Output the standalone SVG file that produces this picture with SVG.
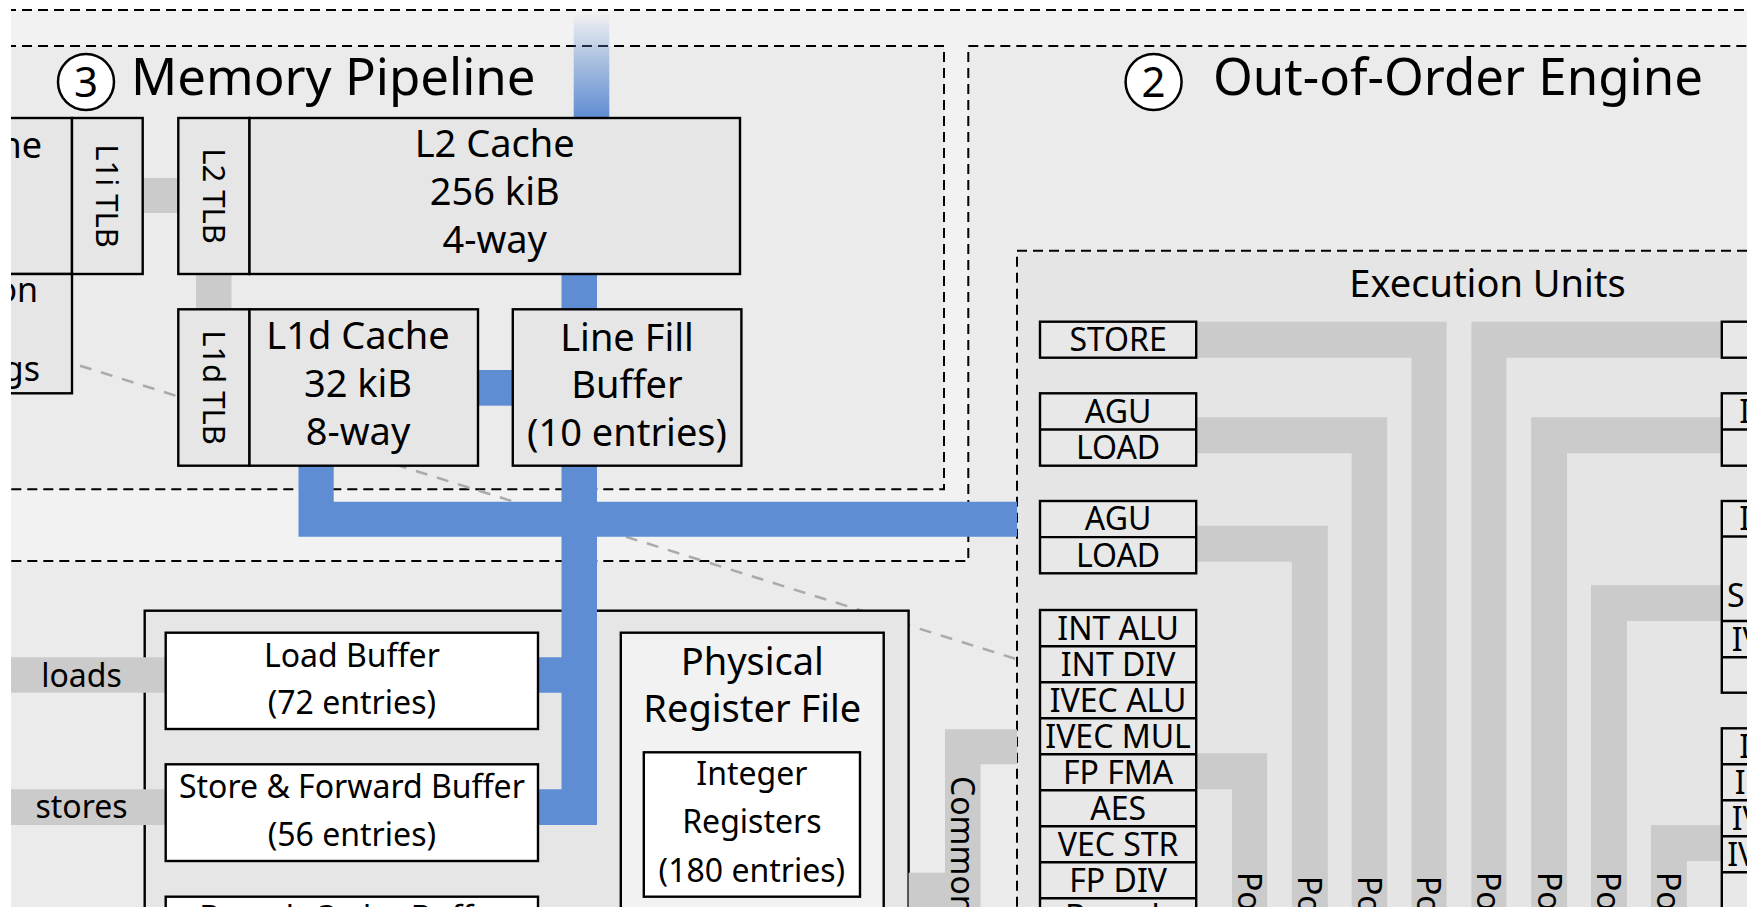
<svg xmlns="http://www.w3.org/2000/svg" width="1747" height="907" viewBox="0 0 1747 907">
<style>
text{font-family:"Noto Sans","Open Sans","DejaVu Sans",sans-serif;fill:#000}
.dash{stroke:#000;stroke-width:2;stroke-dasharray:10,6}
.box{fill:#e6e6e6;stroke:#000;stroke-width:2.4}
.wbox{fill:#fff;stroke:#000;stroke-width:2.4}
.ebox{fill:#e8e8e8;stroke:#000;stroke-width:2.4}
.ln{stroke:#000;stroke-width:2.4}
.gray{fill:#cbcbcb}
.blue{fill:#5f8dd3}
.t50{font-size:51px}
.t38{font-size:38px;text-anchor:middle}
.t32{font-size:32px;text-anchor:middle}
.t31{font-size:31px;text-anchor:middle}
.port{font-size:32px}
</style>
<defs>
<linearGradient id="fade" x1="0" y1="0" x2="0" y2="1">
<stop offset="0" stop-color="#5f8dd3" stop-opacity="0"/>
<stop offset="1" stop-color="#5f8dd3" stop-opacity="1"/>
</linearGradient>
</defs>
<rect x="0" y="0" width="1747" height="907" fill="#fff"/>
<g id="regions">
<rect id="core" x="-10" y="10" width="1780" height="920" fill="#f2f2f2" class="dash"/>
<rect id="memory-pipeline" x="-10" y="46" width="954" height="443.3" fill="#ebebeb" class="dash"/>
<polygon id="ooo-engine" points="968.3,46 1770,46 1770,930 -10,930 -10,561 968.3,561" fill="#ebebeb" class="dash"/>
<rect id="execution-units" x="1017" y="250.7" width="760" height="680" fill="#e5e5e5" class="dash"/>
</g>
<g id="titles">
<circle cx="86" cy="82" r="28" fill="#fff" stroke="#000" stroke-width="2.5"/>
<text x="86" y="97" font-size="42" text-anchor="middle">3</text>
<text x="131" y="95" class="t50">Memory Pipeline</text>
<circle cx="1153.6" cy="82" r="28" fill="#fff" stroke="#000" stroke-width="2.5"/>
<text x="1153.6" y="97" font-size="42" text-anchor="middle">2</text>
<text x="1213" y="95" class="t50">Out-of-Order Engine</text>
<text x="1487.5" y="297" class="t38">Execution Units</text>
</g>
<line x1="80" y1="365.7" x2="1017" y2="659.3" stroke="#aaa" stroke-width="2.5" stroke-dasharray="12,10"/>
<g id="load-store-unit">
<rect x="144.7" y="610.7" width="763.9" height="320" class="box"/>
</g>
<g id="connectors">
<rect class="gray" x="142.7" y="178" width="35.6" height="35"/>
<rect class="gray" x="196" y="274" width="35.5" height="35.3"/>
<rect class="gray" x="-5" y="657.3" width="170.7" height="35.4"/>
<rect class="gray" x="-5" y="789.3" width="170.7" height="35.7"/>
<path class="gray" d="M945,729.3H1017V764.3H980.5V930H945Z"/>
<rect class="gray" x="908.6" y="872.7" width="36.4" height="40"/>
<path class="gray" d="M1196,753.3H1267.1V930H1232V789.3H1196Z"/>
<path class="gray" d="M1196,525.7H1327.8V930H1291.9V561.7H1196Z"/>
<path class="gray" d="M1196,417.3H1387.2V930H1351.7V453.3H1196Z"/>
<path class="gray" d="M1196,321.7H1446.6V930H1411.5V357.7H1196Z"/>
<path class="gray" d="M1721.8,321.7H1471.4V930H1506.4V357.7H1721.8Z"/>
<path class="gray" d="M1721.8,417.3H1531.2V930H1567.1V453.3H1721.8Z"/>
<path class="gray" d="M1721.8,585H1591V930H1627V621H1721.8Z"/>
<path class="gray" d="M1721.8,825H1650.9V930H1686.8V861H1721.8Z"/>
<rect x="573.7" y="12" width="35.6" height="105.7" fill="url(#fade)"/>
<rect class="blue" x="561.5" y="274" width="35.5" height="35.3"/>
<rect class="blue" x="478" y="370" width="34.8" height="35.7"/>
<path class="blue" d="M298.5,465.7H333.7V501.7H561.5V465.7H597V501.7H1017V536.7H597V825H538V789.3H561.5V692.7H538V657.3H561.5V536.7H333.7H298.5Z"/>
</g>
<g id="front-end-left">
<rect x="-20" y="118" width="92" height="156" class="box"/>
<text x="42" y="158.3" font-size="36" text-anchor="end">L1i Cache</text>
<rect x="-20" y="274" width="92" height="119.3" class="box"/>
<text x="38" y="301.7" font-size="34" text-anchor="end">Prediction</text>
<text x="40" y="381" font-size="34" text-anchor="end">Settings</text>
</g>
<g id="l1i-tlb">
<rect x="72" y="118" width="70.7" height="156" class="box"/>
<text class="t31" transform="translate(107.3,196) rotate(90)" dy="0.36em">L1i TLB</text>
</g>
<g id="l2-tlb">
<rect x="178.3" y="118" width="71.2" height="156" class="box"/>
<text class="t31" transform="translate(213.9,196) rotate(90)" dy="0.36em">L2 TLB</text>
</g>
<g id="l2-cache">
<rect x="249.5" y="118" width="490.5" height="156" class="box"/>
<text class="t38" x="494.7" y="156.7">L2 Cache</text>
<text class="t38" x="494.7" y="205">256 kiB</text>
<text class="t38" x="494.7" y="253">4-way</text>
</g>
<g id="l1d-tlb">
<rect x="178.3" y="309.3" width="71.2" height="156.4" class="box"/>
<text class="t31" transform="translate(213.9,387.5) rotate(90)" dy="0.36em">L1d TLB</text>
</g>
<g id="l1d-cache">
<rect x="249.5" y="309.3" width="228.5" height="156.4" class="box"/>
<text class="t38" x="358" y="349.3">L1d Cache</text>
<text class="t38" x="358" y="397.3">32 kiB</text>
<text class="t38" x="358" y="445.3">8-way</text>
</g>
<g id="line-fill-buffer">
<rect x="512.8" y="309.3" width="228.6" height="156.4" class="box"/>
<text class="t38" x="627" y="350.5">Line Fill</text>
<text class="t38" x="627" y="398.3">Buffer</text>
<text class="t38" x="627" y="446">(10 entries)</text>
</g>
<g id="load-buffer">
<rect x="165.7" y="632.7" width="372.3" height="96.3" class="wbox"/>
<text class="t32" x="351.9" y="666.7">Load Buffer</text>
<text class="t32" x="351.9" y="714">(72 entries)</text>
</g>
<g id="store-buffer">
<rect x="165.7" y="764.3" width="372.3" height="96.7" class="wbox"/>
<text class="t32" x="351.9" y="797.5">Store &amp; Forward Buffer</text>
<text class="t32" x="351.9" y="846">(56 entries)</text>
</g>
<g id="third-buffer">
<rect x="165.7" y="896.7" width="372.3" height="96" class="wbox"/>
<text class="t32" x="351.9" y="929">Branch Order Buffer</text>
</g>
<g id="labels-loads-stores">
<text class="t32" x="81.5" y="686.5">loads</text>
<text class="t32" x="81.5" y="818">stores</text>
</g>
<g id="register-file">
<rect x="620.8" y="632.7" width="262.9" height="300" fill="#f2f2f2" stroke="#000" stroke-width="2.4"/>
<text class="t38" x="752.3" y="675">Physical</text>
<text class="t38" x="752.3" y="722">Register File</text>
</g>
<g id="integer-registers">
<rect x="643.8" y="752.3" width="216.2" height="144.4" class="wbox"/>
<text class="t32" x="751.9" y="785">Integer</text>
<text class="t32" x="751.9" y="833.3">Registers</text>
<text class="t32" x="751.9" y="881.7">(180 entries)</text>
</g>
<g id="common-bus-label">
<text class="port" transform="translate(962.75,776) rotate(90)" dy="0.36em">Common Data Bus</text>
</g>
<g id="port4-units">
<rect x="1040" y="321.7" width="156.2" height="36" class="ebox"/>
<text class="t32" x="1118.1" y="351.1">STORE</text>
</g>
<g id="port2-units">
<rect x="1040" y="393.3" width="156.2" height="72.4" class="ebox"/>
<line x1="1040" y1="429.5" x2="1196.2" y2="429.5" class="ln"/>
<text class="t32" x="1118.1" y="422.8">AGU</text>
<text class="t32" x="1118.1" y="459">LOAD</text>
</g>
<g id="port3-units">
<rect x="1040" y="501" width="156.2" height="72.3" class="ebox"/>
<line x1="1040" y1="537.1" x2="1196.2" y2="537.1" class="ln"/>
<text class="t32" x="1118.1" y="530.4">AGU</text>
<text class="t32" x="1118.1" y="566.6">LOAD</text>
</g>
<g id="port0-units">
<rect x="1040" y="610" width="156.2" height="330" class="ebox"/>
<path class="ln" d="M1040,646.3H1196.2M1040,682.3H1196.2M1040,718.3H1196.2M1040,754.3H1196.2M1040,790.3H1196.2M1040,826.3H1196.2M1040,862.3H1196.2M1040,898.3H1196.2"/>
<text class="t32" x="1118.1" y="639.6">INT ALU</text>
<text class="t32" x="1118.1" y="675.6">INT DIV</text>
<text class="t32" x="1118.1" y="711.6">IVEC ALU</text>
<text class="t32" x="1118.1" y="747.6">IVEC MUL</text>
<text class="t32" x="1118.1" y="783.6">FP FMA</text>
<text class="t32" x="1118.1" y="819.6">AES</text>
<text class="t32" x="1118.1" y="855.6">VEC STR</text>
<text class="t32" x="1118.1" y="891.6">FP DIV</text>
<text class="t32" x="1118.1" y="927.6">Branch</text>
</g>
<g id="port7-units">
<rect x="1721.8" y="321.7" width="156.2" height="36" class="ebox"/>
</g>
<g id="port6-units">
<rect x="1721.8" y="393.3" width="156.2" height="72.4" class="ebox"/>
<line x1="1721.8" y1="429.5" x2="1878" y2="429.5" class="ln"/>
<text class="t32" x="1800" y="422.8">INT ALU</text>
</g>
<g id="port5-units">
<rect x="1721.8" y="501" width="156.2" height="191.7" class="ebox"/>
<path class="ln" d="M1721.8,536.5H1878M1721.8,621H1878M1721.8,657.3H1878"/>
<text class="t32" x="1800" y="530.2">INT ALU</text>
<text x="1727" y="607" font-size="32">SLOW LEA</text>
<text class="t32" x="1800" y="650.6">IVEC ALU</text>
</g>
<g id="port1-units">
<rect x="1721.8" y="728.3" width="156.2" height="200" class="ebox"/>
<path class="ln" d="M1721.8,764.3H1878M1721.8,800.3H1878M1721.8,836.3H1878M1721.8,872.3H1878"/>
<text class="t32" x="1800" y="757.7">INT ALU</text>
<text class="t32" x="1800" y="793.7">INT MUL</text>
<text class="t32" x="1800" y="829.7">IVEC ALU</text>
<text class="t32" x="1800" y="865.7">IVEC MUL</text>
</g>
<g id="port-labels">
<text class="port" transform="translate(1249.5,872) rotate(90)" dy="0.36em">Port 0</text>
<text class="port" transform="translate(1309.9,876) rotate(90)" dy="0.36em">Port 3</text>
<text class="port" transform="translate(1369.5,876) rotate(90)" dy="0.36em">Port 2</text>
<text class="port" transform="translate(1429,876) rotate(90)" dy="0.36em">Port 4</text>
<text class="port" transform="translate(1488.9,872) rotate(90)" dy="0.36em">Port 7</text>
<text class="port" transform="translate(1549.2,872) rotate(90)" dy="0.36em">Port 6</text>
<text class="port" transform="translate(1609,872) rotate(90)" dy="0.36em">Port 5</text>
<text class="port" transform="translate(1668.9,872) rotate(90)" dy="0.36em">Port 1</text>
</g>
<rect x="0" y="0" width="11" height="907" fill="#fff"/>
<rect x="0" y="0" width="1747" height="9" fill="#fff"/>
</svg>
